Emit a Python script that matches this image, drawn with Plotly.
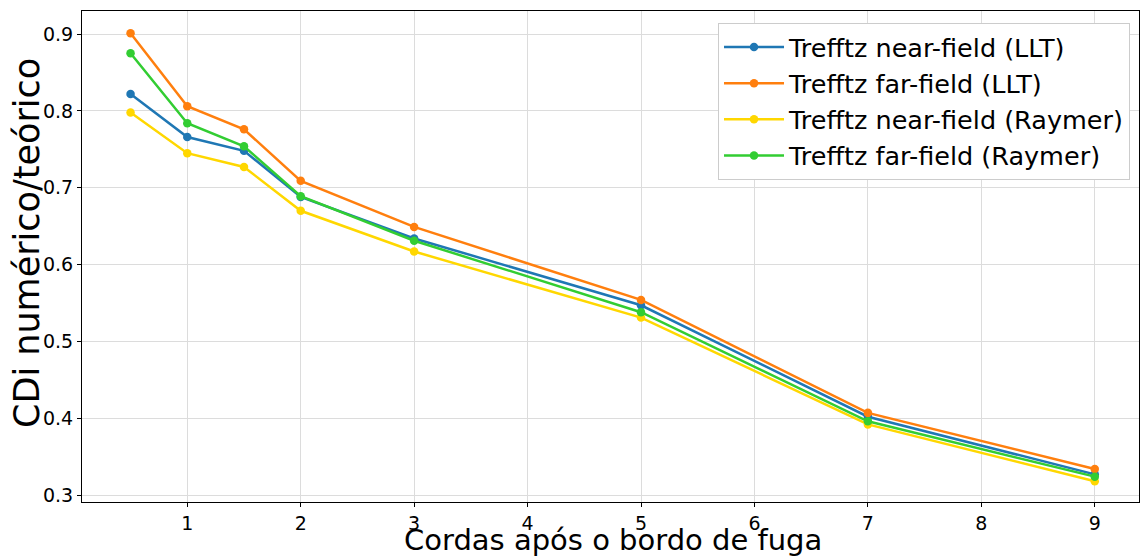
import plotly.graph_objects as go

x = [0.5, 1, 1.5, 2, 3, 5, 7, 9]
near_llt = [0.822, 0.766, 0.748, 0.688, 0.634, 0.547, 0.402, 0.327]
far_llt = [0.901, 0.806, 0.776, 0.709, 0.649, 0.554, 0.407, 0.334]
near_raymer = [0.798, 0.745, 0.727, 0.670, 0.617, 0.531, 0.392, 0.318]
far_raymer = [0.875, 0.784, 0.754, 0.689, 0.631, 0.538, 0.396, 0.324]

series = [
    ("Trefftz near-field (LLT)", near_llt, "#1f77b4"),
    ("Trefftz far-field (LLT)", far_llt, "#ff7f0e"),
    ("Trefftz near-field (Raymer)", near_raymer, "#ffd700"),
    ("Trefftz far-field (Raymer)", far_raymer, "#32cd32"),
]

fig = go.Figure()
for i, (name, ys, col) in enumerate(series):
    fig.add_trace(go.Scatter(x=x, y=ys, name=name, mode="lines+markers",
                             line=dict(color=col, width=2.5),
                             marker=dict(color=col, size=8.5)))

font = "DejaVu Sans, Verdana, sans-serif"
fig.update_layout(
    width=1140, height=559,
    margin=dict(l=82, r=1, t=11, b=57),
    paper_bgcolor="white", plot_bgcolor="white",
    font=dict(family=font, color="black"),
    showlegend=True,
    legend=dict(x=0.9915, y=0.9756, xanchor="right", yanchor="top",
                bgcolor="white", bordercolor="#cccccc", borderwidth=1,
                font=dict(size=25.5, family=font), itemwidth=60,
                tracegroupgap=0),
    xaxis=dict(range=[0.072, 9.39], dtick=1, tick0=0,
               showgrid=True, gridcolor="#dcdcdc", gridwidth=1,
               showline=True, linecolor="black", linewidth=1, mirror=True,
               ticks="outside", ticklen=4, tickcolor="black",
               tickfont=dict(size=19), zeroline=False),
    yaxis=dict(range=[0.291, 0.930], dtick=0.1, tick0=0.3, tickformat=".1f",
               showgrid=True, gridcolor="#dcdcdc", gridwidth=1,
               showline=True, linecolor="black", linewidth=1, mirror=True,
               ticks="outside", ticklen=4, tickcolor="black",
               tickfont=dict(size=19), zeroline=False),
    annotations=[
        dict(text="Cordas após o bordo de fuga", xref="paper", yref="paper",
             x=0.502, y=-57 / 491, xanchor="center", yanchor="bottom",
             showarrow=False, font=dict(size=29, family=font)),
        dict(text="CDi numérico/teórico", xref="paper", yref="paper",
             x=-(82 - 27) / 1057, y=(502 - 243) / 491, xanchor="center", yanchor="middle",
             textangle=-90, showarrow=False, font=dict(size=35, family=font)),
    ],
)

fig.write_html("out.html")
